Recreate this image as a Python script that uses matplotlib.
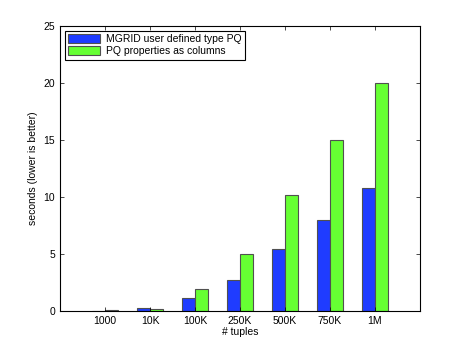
import numpy as np
import matplotlib
matplotlib.use('Agg')
import matplotlib.pyplot as plt

plt.rcParams['font.family'] = ['Liberation Sans', 'DejaVu Sans']

categories = ['1000', '10K', '100K', '250K', '500K', '750K', '1M']
mgrid = [0.03, 0.22, 1.1, 2.7, 5.4, 8.0, 10.8]
pq_cols = [0.06, 0.2, 1.9, 5.0, 10.2, 15.0, 20.0]

x = np.arange(1, len(categories) + 1)
w = 0.28

fig = plt.figure(figsize=(4.63, 3.49), dpi=100)
ax = fig.add_axes([60/463, 1 - 311/349, 360/463, 285/349])

ax.bar(x - w/2, mgrid, w, color='#1f3cff', edgecolor='#505050', linewidth=0.8,
       label='MGRID user defined type PQ')
ax.bar(x + w/2, pq_cols, w, color='#66ff33', edgecolor='#505050', linewidth=0.8,
       label='PQ properties as columns')

ax.set_xlim(0, 8)
ax.set_ylim(0, 25)
ax.set_xticks(x)
ax.set_xticklabels(categories)
ax.set_yticks(np.arange(0, 26, 5))
ax.tick_params(axis='both', direction='in', length=3, labelsize=7.5,
               top=True, right=True, width=0.5)
for s in ax.spines.values():
    s.set_linewidth(0.8)
ax.set_xlabel('# tuples', fontsize=7.5, labelpad=1)
ax.set_ylabel('seconds (lower is better)', fontsize=7.5)

leg = ax.legend(loc='upper left', fontsize=7.5, fancybox=False, framealpha=1,
                edgecolor='black', borderpad=0.3, handlelength=3.0,
                handleheight=0.9, handletextpad=0.6, labelspacing=0.2,
                borderaxespad=0.5)
leg.get_frame().set_linewidth(0.8)

plt.savefig('out.png', dpi=100)
